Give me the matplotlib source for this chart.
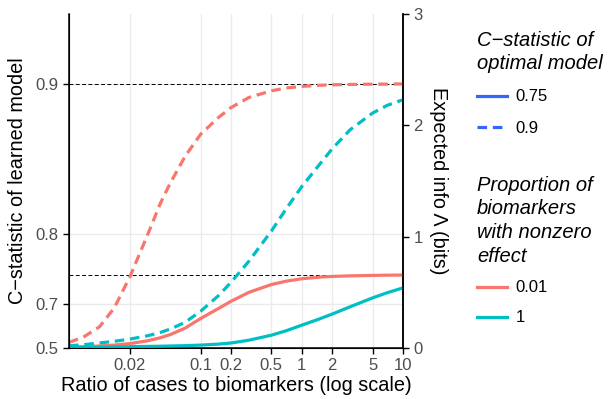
import math
from statistics import NormalDist
import matplotlib
matplotlib.use("Agg")
import matplotlib.pyplot as plt
from matplotlib.lines import Line2D

plt.rcParams['font.family'] = ['Liberation Sans', 'DejaVu Sans']

# ratio of cases to biomarkers
ratio = [0.005, 0.007, 0.01, 0.014, 0.02, 0.03, 0.04, 0.05, 0.07, 0.1, 0.15, 0.2,
         0.3, 0.5, 0.7, 1, 1.5, 2, 3, 5, 7, 10]
# expected information (bits)
red_c90 = [0.05, 0.10, 0.19, 0.36, 0.64, 1.02, 1.30, 1.48, 1.72, 1.92, 2.07, 2.16,
           2.25, 2.31, 2.335, 2.35, 2.36, 2.364, 2.367, 2.37, 2.37, 2.372]
red_c75 = [0.008, 0.012, 0.018, 0.026, 0.04, 0.065, 0.092, 0.12, 0.178, 0.265, 0.355,
           0.42, 0.50, 0.57, 0.60, 0.622, 0.637, 0.643, 0.648, 0.652, 0.654, 0.655]
cyan_c90 = [0.02, 0.03, 0.045, 0.06, 0.08, 0.11, 0.14, 0.17, 0.23, 0.33, 0.47, 0.59,
            0.78, 1.05, 1.25, 1.45, 1.65, 1.79, 1.96, 2.11, 2.18, 2.23]
cyan_c75 = [0.005, 0.006, 0.008, 0.010, 0.012, 0.014, 0.016, 0.018, 0.021, 0.026,
            0.035, 0.045, 0.07, 0.115, 0.155, 0.205, 0.262, 0.305, 0.37, 0.45,
            0.497, 0.54]

x_ticks = [0.02, 0.1, 0.2, 0.5, 1, 2, 5, 10]
x_tick_labels = ["0.02", "0.1", "0.2", "0.5", "1", "2", "5", "10"]
c_ticks = [0.5, 0.7, 0.8, 0.9]
bits_ticks = [0, 1, 2, 3]
optimal_c = [0.75, 0.9]
proportions = ["0.01", "1"]

RED = "#F8766D"
CYAN = "#00BFC4"
BLUE = "#3366FF"


def c_to_bits(c):
    z = NormalDist().inv_cdf(c)
    return z * z * math.log2(math.e)


fig = plt.figure(figsize=(6.14, 3.99), dpi=100)
L, R, T, B = 69 / 614, 403 / 614, 14 / 399, 348 / 399
ax = fig.add_axes([L, 1 - B, R - L, B - T])
ax.set_xscale('log')
ax.set_xlim(0.005, 10)
ax.set_ylim(0, 3)

# grid
for xt in x_ticks:
    ax.axvline(xt, color='#EBEBEB', lw=1.0, zorder=0)
for ct in c_ticks[1:]:
    ax.axhline(c_to_bits(ct), color='#EBEBEB', lw=1.0, zorder=0)

# reference lines
for c in optimal_c:
    ax.axhline(c_to_bits(c), color='black', lw=0.7, ls=(0, (4, 2.5)), zorder=1)

lw = 2.3
dash = (0, (3.0, 1.8))
ax.plot(ratio, red_c75, color=RED, lw=lw, solid_capstyle='butt', zorder=3)
ax.plot(ratio, red_c90, color=RED, lw=lw, ls=dash, zorder=3)
ax.plot(ratio, cyan_c75, color=CYAN, lw=lw, solid_capstyle='butt', zorder=3)
ax.plot(ratio, cyan_c90, color=CYAN, lw=lw, ls=dash, zorder=3)

ax.set_xticks(x_ticks)
ax.set_xticklabels(x_tick_labels)
ax.xaxis.set_minor_locator(matplotlib.ticker.NullLocator())
ax.set_yticks([c_to_bits(c) for c in c_ticks])
ax.set_yticklabels([str(c) for c in c_ticks])
ax.tick_params(axis='both', labelsize=12, labelcolor='#4D4D4D', color='black',
               length=4, width=1)
ax.spines['top'].set_visible(False)
for s in ['left', 'bottom', 'right']:
    ax.spines[s].set_linewidth(1.1)

ax2 = ax.twinx()
ax2.set_ylim(0, 3)
ax2.set_yticks(bits_ticks)
ax2.tick_params(axis='y', labelsize=12, labelcolor='#4D4D4D', length=4, width=1)
ax2.spines['top'].set_visible(False)
ax2.spines['right'].set_linewidth(1.1)

ax.set_xlabel("Ratio of cases to biomarkers (log scale)", fontsize=14.3, labelpad=2)
ax.set_ylabel("C\u2212statistic of learned model", fontsize=14.3, labelpad=6)
ax2.set_ylabel("Expected info \u039b (bits)", fontsize=14.3, rotation=-90,
               labelpad=18)

# legends
h1 = [Line2D([], [], color=BLUE, lw=lw), Line2D([], [], color=BLUE, lw=lw, ls=dash)]
leg1 = fig.legend(h1, [str(c) for c in optimal_c], title="C\u2212statistic of\noptimal model",
                  loc='upper left', bbox_to_anchor=(472 / 614, 1 - 26 / 399),
                  frameon=False, fontsize=12, handlelength=1.8, handletextpad=0.5,
                  labelspacing=1.0, borderaxespad=0, borderpad=0.3,
                  title_fontproperties={'size': 14.5, 'style': 'italic'})
leg1.get_title().set_linespacing(1.25)
leg1._legend_box.align = "left"

h2 = [Line2D([], [], color=RED, lw=lw), Line2D([], [], color=CYAN, lw=lw)]
leg2 = fig.legend(h2, proportions,
                  title="Proportion of\nbiomarkers\nwith nonzero\neffect",
                  loc='upper left', bbox_to_anchor=(472 / 614, 1 - 171 / 399),
                  frameon=False, fontsize=12, handlelength=1.8, handletextpad=0.5,
                  labelspacing=0.9, borderaxespad=0, borderpad=0.3,
                  title_fontproperties={'size': 14.5, 'style': 'italic'})
leg2.get_title().set_linespacing(1.3)
leg2._legend_box.align = "left"

fig.savefig("out.png", dpi=100)
